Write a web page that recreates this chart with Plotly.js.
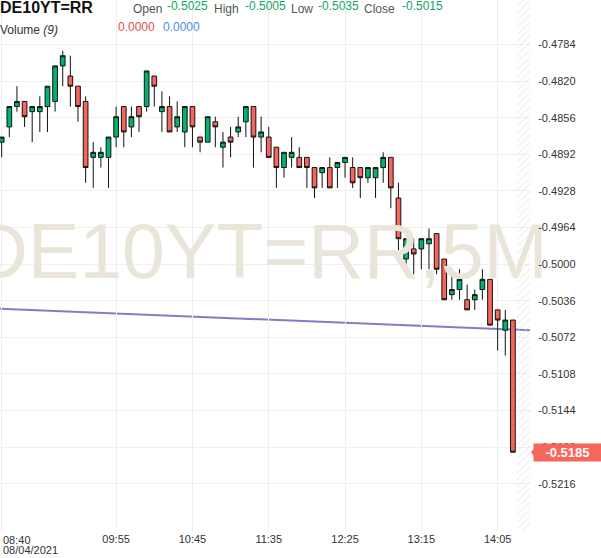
<!DOCTYPE html>
<html><head><meta charset="utf-8">
<script src="https://cdn.plot.ly/plotly-3.0.1.min.js"></script>
<style>html,body{margin:0;padding:0;background:#fff}#chart{width:601px;height:558px}</style>
</head><body><div id="chart"></div>
<script>
const symbol = 'DE10YT=RR';
const watermark = 'DE10YT=RR,5M';
const dateLabel = '08/04/2021';
const times = ['08:40','08:45','08:50','08:55','09:00','09:05','09:10','09:15','09:20','09:25',
 '09:30','09:35','09:40','09:45','09:50','09:55','10:00','10:05','10:10','10:15',
 '10:20','10:25','10:30','10:35','10:40','10:45','10:50','10:55','11:00','11:05',
 '11:10','11:15','11:20','11:25','11:30','11:35','11:40','11:45','11:50','11:55',
 '12:00','12:05','12:10','12:15','12:20','12:25','12:30','12:35','12:40','12:45',
 '12:50','12:55','13:00','13:05','13:10','13:15','13:20','13:25','13:30','13:35',
 '13:40','13:45','13:50','13:55','14:00','14:05','14:10','14:15'];
const openV = [-0.4880,-0.4865,-0.4845,-0.4840,-0.4850,-0.4850,-0.4845,-0.4840,-0.4805,-0.4815,
 -0.4825,-0.4840,-0.4895,-0.4895,-0.4895,-0.4875,-0.4845,-0.4865,-0.4845,-0.4845,
 -0.4815,-0.4850,-0.4845,-0.4865,-0.4870,-0.4845,-0.4875,-0.4880,-0.4860,-0.4885,
 -0.4875,-0.4870,-0.4860,-0.4845,-0.4875,-0.4875,-0.4885,-0.4905,-0.4895,-0.4895,
 -0.4895,-0.4905,-0.4910,-0.4905,-0.4905,-0.4900,-0.4905,-0.4905,-0.4915,-0.4915,
 -0.4905,-0.4895,-0.4935,-0.4995,-0.4985,-0.4985,-0.4980,-0.4970,-0.4995,-0.5030,
 -0.5025,-0.5035,-0.5035,-0.5025,-0.5015,-0.5045,-0.5065,-0.5055];
const highV = [-0.4875,-0.4845,-0.4825,-0.4840,-0.4845,-0.4835,-0.4825,-0.4805,-0.4790,-0.4795,
 -0.4825,-0.4835,-0.4880,-0.4885,-0.4875,-0.4845,-0.4845,-0.4845,-0.4845,-0.4810,
 -0.4815,-0.4830,-0.4835,-0.4840,-0.4845,-0.4845,-0.4875,-0.4855,-0.4855,-0.4870,
 -0.4865,-0.4855,-0.4845,-0.4845,-0.4855,-0.4865,-0.4885,-0.4890,-0.4875,-0.4885,
 -0.4895,-0.4905,-0.4905,-0.4895,-0.4900,-0.4895,-0.4895,-0.4905,-0.4905,-0.4905,
 -0.4890,-0.4895,-0.4920,-0.4975,-0.4975,-0.4975,-0.4965,-0.4970,-0.4995,-0.5005,
 -0.5005,-0.5020,-0.5025,-0.5005,-0.5015,-0.5045,-0.5045,-0.5055];
const lowV = [-0.4895,-0.4875,-0.4850,-0.4865,-0.4880,-0.4870,-0.4870,-0.4850,-0.4825,-0.4845,
 -0.4860,-0.4920,-0.4925,-0.4905,-0.4925,-0.4885,-0.4885,-0.4875,-0.4870,-0.4850,
 -0.4845,-0.4870,-0.4870,-0.4870,-0.4885,-0.4885,-0.4890,-0.4880,-0.4885,-0.4905,
 -0.4895,-0.4875,-0.4875,-0.4905,-0.4890,-0.4895,-0.4925,-0.4915,-0.4905,-0.4905,
 -0.4925,-0.4935,-0.4925,-0.4925,-0.4925,-0.4915,-0.4925,-0.4935,-0.4920,-0.4935,
 -0.4920,-0.4945,-0.4995,-0.5005,-0.5010,-0.5005,-0.5005,-0.5010,-0.5035,-0.5035,
 -0.5035,-0.5045,-0.5045,-0.5035,-0.5060,-0.5085,-0.5090,-0.5185];
const closeV = [-0.4875,-0.4845,-0.4840,-0.4855,-0.4845,-0.4845,-0.4825,-0.4805,-0.4795,-0.4825,
 -0.4845,-0.4905,-0.4890,-0.4890,-0.4875,-0.4855,-0.4870,-0.4855,-0.4855,-0.4810,
 -0.4825,-0.4845,-0.4870,-0.4855,-0.4845,-0.4865,-0.4880,-0.4855,-0.4865,-0.4880,
 -0.4880,-0.4865,-0.4845,-0.4875,-0.4870,-0.4895,-0.4905,-0.4890,-0.4890,-0.4905,
 -0.4905,-0.4925,-0.4905,-0.4925,-0.4900,-0.4895,-0.4920,-0.4915,-0.4905,-0.4905,
 -0.4895,-0.4925,-0.4975,-0.4975,-0.4990,-0.4975,-0.4975,-0.5005,-0.5035,-0.5025,
 -0.5015,-0.5045,-0.5030,-0.5015,-0.5060,-0.5055,-0.5055,-0.5185];
const labeledTimes = ['08:40','09:55','10:45','11:35','12:25','13:15','14:05'];
const yTicks = [-0.4784,-0.4820,-0.4856,-0.4892,-0.4928,-0.4964,-0.5000,-0.5036,-0.5072,-0.5108,-0.5144,-0.5180,-0.5216];
const trendY = [-0.5044, -0.5065];
const headerIdx = 60;
const volumeVals = ['0.0000','0.0000'];

const GREEN = '#00b46e', RED = '#f7665b';
const xIdx = times.map((t, i) => i);
const xRange = [-0.22, 69.24];
const yRange = [-0.52625, -0.47402];
const futureStart = times.length - 0.5;

const font = 'Arial, "Liberation Sans", sans-serif';

const traces = [
  { type: 'scatter', mode: 'text', x: [33.85], y: [-0.49945], text: [watermark],
    textposition: 'middle center', cliponaxis: false,
    textfont: { family: font, size: 77, color: '#e9e5d9' }, hoverinfo: 'skip', showlegend: false },
  { type: 'bar', x: [(futureStart + xRange[1]) / 2], y: [yRange[1] - yRange[0] + 0.01], base: [yRange[0] - 0.005],
    width: [xRange[1] - futureStart], hoverinfo: 'skip', showlegend: false,
    marker: { color: 'rgba(0,0,0,0)', line: { width: 0 },
      pattern: { shape: '/', fgcolor: '#e0e0e0', bgcolor: 'rgba(0,0,0,0)', size: 5, solidity: 0.15 } } },
  { type: 'candlestick', x: xIdx, open: openV, high: highV, low: lowV, close: closeV,
    increasing: { fillcolor: GREEN, line: { color: '#111', width: 1 } },
    decreasing: { fillcolor: RED, line: { color: '#111', width: 1 } },
    whiskerwidth: 0, hoverinfo: 'skip', showlegend: false }
];

const W = 530, H = 531;
const px = x => x / W, py = y => 1 - y / H;
const ann = (text, x, y, size, color, extra) => Object.assign({
  text, xref: 'paper', yref: 'paper', x: px(x), y: py(y), xanchor: 'left', yanchor: 'middle',
  showarrow: false, borderpad: 0, font: { family: font, size, color } }, extra || {});

const fmt = v => v.toFixed(4);
const annotations = [
  ann('<b>' + symbol + '</b>', -1, 7.5, 16, '#111'),
  ann('Open', 132, 8.5, 12, '#555'),
  ann(fmt(openV[headerIdx]), 166, 6, 12, '#14a564'),
  ann('High', 213, 8.5, 12, '#555'),
  ann(fmt(highV[headerIdx]), 244, 6, 12, '#14a564'),
  ann('Low', 290, 8.5, 12, '#555'),
  ann(fmt(lowV[headerIdx]), 317, 6, 12, '#14a564'),
  ann('Close', 363, 8.5, 12, '#555'),
  ann(fmt(closeV[headerIdx]), 401, 6, 12, '#14a564'),
  ann('Volume <i>(9)</i>', -1, 30, 12, '#333'),
  ann(volumeVals[0], 117, 27, 12, '#e0504c'),
  ann(volumeVals[1], 162, 27, 12, '#4a8de0'),
  ann(labeledTimes[0], 1.5, 539.5, 11, '#333'),
  ann(dateLabel, 1.5, 549.5, 11, '#333'),
  { text: '<b>' + fmt(closeV[closeV.length - 1]) + '</b>', xref: 'paper', yref: 'y', x: 1, xshift: 3,
    y: closeV[closeV.length - 1], xanchor: 'left', yanchor: 'middle', showarrow: false,
    bgcolor: RED, borderpad: 3, width: 61, height: 11, align: 'center',
    font: { family: font, size: 13, color: '#fff' } }
];

const layout = {
  width: 601, height: 558,
  margin: { l: 0, r: 71, t: 0, b: 27, pad: 0 },
  paper_bgcolor: '#fff', plot_bgcolor: '#fff',
  showlegend: false, boxgap: 0.12, bargap: 0,
  font: { family: font, size: 11, color: '#333' },
  xaxis: { type: 'linear', range: xRange, tickvals: labeledTimes.map(t => times.indexOf(t)),
    ticktext: labeledTimes.map((t, i) => i === 0 ? '' : t), showgrid: true, gridcolor: '#efefef', gridwidth: 1,
    zeroline: false, showline: false, ticks: '', rangeslider: { visible: false }, fixedrange: true,
    tickfont: { family: font, size: 11, color: '#333' } },
  yaxis: { side: 'right', range: yRange, tickvals: yTicks, ticktext: yTicks.map(fmt),
    showgrid: true, gridcolor: '#efefef', zeroline: false, showline: false,
    ticks: 'outside', ticklen: 5, tickcolor: 'rgba(0,0,0,0)', fixedrange: true,
    tickfont: { family: font, size: 11, color: '#333' } },
  shapes: [
    { type: 'line', xref: 'paper', yref: 'y', x0: 0, x1: 1, y0: trendY[0], y1: trendY[1],
      line: { color: 'rgba(112,112,190,0.9)', width: 2 }, layer: 'below' },
    { type: 'path', xref: 'paper', yref: 'y', xsizemode: 'pixel', ysizemode: 'pixel',
      xanchor: 1, yanchor: closeV[closeV.length - 1], path: 'M 1 0 L 5 -5 L 5 5 Z',
      fillcolor: RED, line: { width: 0 }, layer: 'above' }
  ],
  annotations
};

Plotly.newPlot('chart', traces, layout, { staticPlot: true, displayModeBar: false });
</script>
</body></html>
